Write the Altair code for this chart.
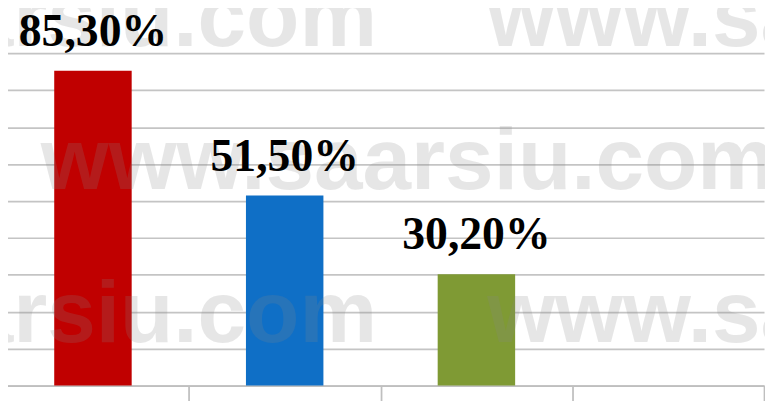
import altair as alt
import pandas as pd

# ---- data ----
categories = ["Cat 1", "Cat 2", "Cat 3", "Cat 4"]   # fourth band is empty
values = [85.3, 51.5, 30.2]
value_labels = ["85,30%", "51,50%", "30,20%"]
bar_colors = ["#C00000", "#0F6FC6", "#7F9A34"]
grid_values = [0, 10, 20, 30, 40, 50, 60, 70, 80, 90]
watermark_text = ["www.saarsiu.com"]

df = pd.DataFrame({
    "cat": categories[:3],
    "value": values,
    "label": value_labels,
})

W, H = 763, 372

x_enc = alt.X(
    "cat:N",
    sort=categories,
    scale=alt.Scale(domain=categories, range=[-11, 762], paddingInner=0, paddingOuter=0),
    axis=alt.Axis(
        tickBand="extent", labels=False, title=None, grid=False,
        domainColor="#bfbfbf", domainWidth=1.75,
        tickColor="#bfbfbf", tickWidth=1.75, tickSize=20,
    ),
)
y_enc = alt.Y(
    "value:Q",
    scale=alt.Scale(domain=[0, 100]),
    axis=alt.Axis(
        values=grid_values, grid=True, gridColor="#c4c4c4", gridWidth=1.75,
        domain=False, ticks=False, labels=False, title=None,
    ),
)

bars = alt.Chart(df).mark_bar(width=alt.RelativeBandSize(0.404)).encode(
    x=x_enc,
    y=y_enc,
    color=alt.Color("cat:N", scale=alt.Scale(domain=categories[:3], range=bar_colors), legend=None),
)

wm_df = pd.DataFrame({"t": watermark_text})


def wm(xpos, ypos, align):
    return alt.Chart(wm_df).mark_text(
        font="Liberation Sans", fontWeight="bold", fontSize=88,
        align=align, baseline="alphabetic", color="#888888", opacity=0.2,
    ).encode(text="t:N", x=alt.value(xpos), y=alt.value(ypos))


watermark = alt.layer(
    wm(372, 29.5, "right"), wm(483, 29.5, "left"),
    wm(33, 173.5, "left"),
    wm(372, 328.5, "right"), wm(483, 328.5, "left"),
)

labels = alt.Chart(df).mark_text(
    font="Liberation Serif", fontWeight="bold", fontSize=46,
    baseline="alphabetic", align="center", dy=-25, color="#000000",
).encode(x=x_enc, y=y_enc, text="label:N")

chart = alt.layer(bars, watermark, labels).properties(
    width=W, height=H,
    autosize=alt.AutoSizeParams(type="none"),
    padding={"left": 0, "top": 7, "right": 0, "bottom": 20},
    background="#ffffff",
).configure_view(strokeWidth=0)

chart.save("out.html", embed_options={"renderer": "svg", "actions": False})
